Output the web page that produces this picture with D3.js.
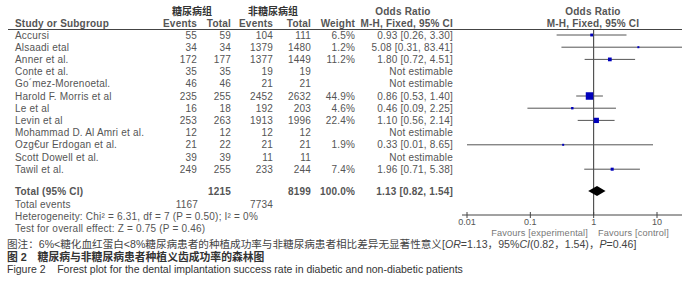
<!DOCTYPE html>
<html>
<head>
<meta charset="utf-8">
<script src="https://cdn.jsdelivr.net/npm/d3@7"></script>
<style>
  body { margin: 0; background: #fff; }
  text { font-family: "Liberation Sans", Arial, sans-serif; }
</style>
</head>
<body>
<script>
// data
let studies = ["Accursi", "Alsaadi etal", "Anner et al.", "Conte et al.", "Go´mez-Morenoetal.",
  "Harold F. Morris et al", "Le et al", "Levin et al", "Mohammad D. Al Amri et al.",
  "Ozg€ur Erdogan et al.", "Scott Dowell et al.", "Tawil et al."];
let eventsD = [55, 34, 172, 35, 46, 235, 16, 253, 12, 21, 39, 249];
let totalD  = [59, 34, 177, 35, 46, 255, 18, 263, 12, 22, 39, 255];
let eventsN = [104, 1379, 1377, 19, 21, 2452, 192, 1913, 12, 21, 11, 233];
let totalN  = [111, 1480, 1449, 19, 21, 2632, 203, 1996, 12, 21, 11, 244];
let weights = [6.5, 1.2, 11.2, null, null, 44.9, 4.6, 22.4, null, 1.9, null, 7.4];
let ors     = [0.93, 5.08, 1.80, null, null, 0.86, 0.46, 1.10, null, 0.33, null, 1.96];
let lows    = [0.26, 0.31, 0.72, null, null, 0.53, 0.09, 0.56, null, 0.01, null, 0.71];
let highs   = [3.30, 83.41, 4.51, null, null, 1.40, 2.25, 2.14, null, 8.65, null, 5.38];
let total = {eventsD: 1167, eventsN: 7734, totalD: 1215, totalN: 8199, or: 1.13, lo: 0.82, hi: 1.54};
let ticks = [0.01, 0.1, 1, 10];
let tickLabels = ["0.01", "0.1", "1", "10"];

let width = 700, height = 298;
let grey = "#555";

let svg = d3.select("body").append("svg")
  .attr("width", width)
  .attr("height", height);

svg.append("rect").attr("width", width).attr("height", height).attr("fill", "#fff");

// row positions
let y = d3.scaleLinear().domain([0, 1]).range([36, 48.2]);
let x = d3.scaleLog().domain([0.01, 10]).range([467, 657]);
let axisMin = 462, axisMax = 682, axisY = 215;
let clampX = v => Math.max(axisMin, Math.min(axisMax, x(v)));
let boxSize = d3.scaleSqrt().domain([0, 45]).range([0, 7.5]);

function txt(xp, yp, s, anchor, opts) {
  opts = opts || {};
  return svg.append("text")
    .attr("x", xp).attr("y", yp)
    .attr("text-anchor", anchor || "start")
    .attr("dominant-baseline", "middle")
    .style("font-size", (opts.size || 10) + "px")
    .style("font-weight", opts.bold ? "bold" : "normal")
    .style("letter-spacing", (opts.ls == null ? 0.2 : opts.ls) + "px")
    .attr("fill", opts.color || grey)
    .text(s);
}

// header
txt(192, 12, "糖尿病组", "middle", {bold: true, color: "#333", ls: 0}).style("font-family", "'Noto Sans CJK SC'");
txt(273, 12, "非糖尿病组", "middle", {bold: true, color: "#333", ls: 0}).style("font-family", "'Noto Sans CJK SC'");
txt(403, 12, "Odds Ratio", "middle", {bold: true});
txt(593, 12, "Odds Ratio", "middle", {bold: true});
txt(15, 24, "Study or Subgroup", "start", {bold: true});
txt(197, 24, "Events", "end", {bold: true});
txt(231, 24, "Total", "end", {bold: true});
txt(273, 24, "Events", "end", {bold: true});
txt(311, 24, "Total", "end", {bold: true});
txt(355, 24, "Weight", "end", {bold: true});
txt(453, 24, "M-H, Fixed, 95% CI", "end", {bold: true});
txt(593, 24, "M-H, Fixed, 95% CI", "middle", {bold: true});

svg.append("line")
  .attr("x1", 8).attr("x2", axisMax)
  .attr("y1", 29.5).attr("y2", 29.5)
  .attr("stroke", "#444").attr("stroke-width", 1);

// rows
studies.forEach(function(s, i) {
  let yy = y(i);
  txt(15, yy, s);
  txt(197, yy, eventsD[i], "end");
  txt(231, yy, totalD[i], "end");
  txt(273, yy, eventsN[i], "end");
  txt(311, yy, totalN[i], "end");
  if (weights[i] != null) {
    txt(355, yy, weights[i].toFixed(1) + "%", "end");
    txt(453, yy, ors[i].toFixed(2) + " [" + lows[i].toFixed(2) + ", " + highs[i].toFixed(2) + "]", "end");
  } else {
    txt(453, yy, "Not estimable", "end");
  }
});

// vertical line at 1
svg.append("line")
  .attr("x1", x(1)).attr("x2", x(1))
  .attr("y1", 30).attr("y2", axisY)
  .attr("stroke", "#333").attr("stroke-width", 1);

// CI lines and boxes
let est = studies.map((s, i) => i).filter(i => ors[i] != null);
svg.selectAll(".ci").data(est).enter().append("line")
  .attr("x1", i => clampX(lows[i]))
  .attr("x2", i => clampX(highs[i]))
  .attr("y1", i => y(i) - 1).attr("y2", i => y(i) - 1)
  .attr("stroke", "#555").attr("stroke-width", 1);

svg.selectAll(".box").data(est).enter().append("rect")
  .attr("x", i => x(ors[i]) - Math.max(2, boxSize(weights[i])) / 2)
  .attr("y", i => y(i) - 1 - Math.max(2, boxSize(weights[i])) / 2)
  .attr("width", i => Math.max(2, boxSize(weights[i])))
  .attr("height", i => Math.max(2, boxSize(weights[i])))
  .attr("fill", "#0000bb");

// totals
let ty = 192.5;
txt(15, ty, "Total (95% CI)", "start", {bold: true});
txt(231, ty, total.totalD, "end", {bold: true});
txt(311, ty, total.totalN, "end", {bold: true});
txt(355, ty, "100.0%", "end", {bold: true});
txt(453, ty, total.or.toFixed(2) + " [" + total.lo.toFixed(2) + ", " + total.hi.toFixed(2) + "]", "end", {bold: true});
txt(15, 205, "Total events");
txt(198, 205, total.eventsD, "end");
txt(273, 205, total.eventsN, "end");
txt(15, 217.5, "Heterogeneity: Chi² = 6.31, df = 7 (P = 0.50); I² = 0%");
txt(15, 229.5, "Test for overall effect: Z = 0.75 (P = 0.46)");

let dy = 191;
svg.append("path")
  .attr("d", "M" + x(total.lo) + "," + dy + "L" + x(total.or) + "," + (dy - 5) +
    "L" + x(total.hi) + "," + dy + "L" + x(total.or) + "," + (dy + 5) + "Z")
  .attr("fill", "#000");

// axis
svg.append("line")
  .attr("x1", axisMin).attr("x2", axisMax)
  .attr("y1", axisY).attr("y2", axisY)
  .attr("stroke", "#444");
svg.selectAll(".tick").data(ticks).enter().append("line")
  .attr("x1", d => x(d)).attr("x2", d => x(d))
  .attr("y1", axisY - 3).attr("y2", axisY + 3)
  .attr("stroke", "#444");
ticks.forEach(function(t, i) {
  txt(x(t), 222.5, tickLabels[i], "middle", {size: 9, ls: 0});
});
txt(588, 233.8, "Favours [experimental]", "end", {size: 9.2, color: "#777", ls: 0.15});
txt(598, 233.8, "Favours [control]", "start", {size: 9.2, color: "#777", ls: 0.15});

// caption
let cap = svg.append("text")
  .attr("x", 7).attr("y", 247.5)
  .style("font-size", "10.6px")
  .attr("fill", "#444")
  .style("font-family", "'Liberation Sans', 'Noto Sans CJK SC', sans-serif");
cap.append("tspan").text("图注：6%<糖化血红蛋白<8%糖尿病患者的种植成功率与非糖尿病患者相比差异无显著性意义[");
cap.append("tspan").style("font-style", "italic").text("OR");
cap.append("tspan").text("=1.13");
cap.append("tspan").text("，");
cap.append("tspan").text("95%");
cap.append("tspan").style("font-style", "italic").text("CI");
cap.append("tspan").text("(0.82");
cap.append("tspan").text("，");
cap.append("tspan").text("1.54)");
cap.append("tspan").text("，");
cap.append("tspan").style("font-style", "italic").text("P");
cap.append("tspan").text("=0.46]");

svg.append("text")
  .attr("x", 7).attr("y", 260.5)
  .style("font-size", "10.8px")
  .style("font-weight", "bold")
  .attr("fill", "#333")
  .style("font-family", "'Liberation Sans', 'Noto Sans CJK SC', sans-serif")
  .text("图 2　糖尿病与非糖尿病患者种植义齿成功率的森林图");

svg.append("text")
  .attr("x", 7).attr("y", 273)
  .style("font-size", "10.5px")
  .attr("fill", "#333")
  .attr("xml:space", "preserve")
  .style("white-space", "pre")
  .text("Figure 2    Forest plot for the dental implantation success rate in diabetic and non-diabetic patients");
</script>
</body>
</html>
